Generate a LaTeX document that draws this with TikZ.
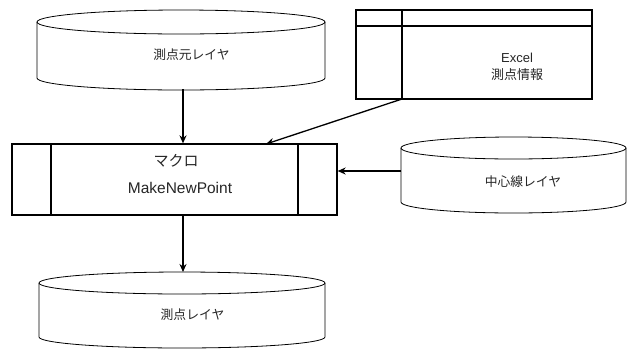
\documentclass[tikz,border=0pt]{standalone}
\usepackage{fontspec}
\setmainfont{Liberation Sans}
\newfontfamily\jp{Noto Sans CJK JP}
\usetikzlibrary{arrows.meta}

\tikzset{
  cyl/.style={line width=0.8pt},
  boxline/.style={line width=1.3pt},
  flow/.style={line width=1.3pt, -{Stealth[length=8pt,width=7pt]}},
  lbl/.style={inner sep=0pt, text=black!85},
}

% a flat cylinder (data layer): centre x, left x, top-ellipse y, bottom-ellipse y, y radius
\newcommand{\layercyl}[5]{%
  \draw[cyl] (#1pt,-#3pt) ellipse [x radius=#1pt-#2pt, y radius=#5pt];
  \draw[cyl] (#2pt,-#3pt) -- (#2pt,-#4pt)
    arc [start angle=180, end angle=360, x radius=#1pt-#2pt, y radius=#5pt]
    -- (2*#1pt-#2pt,-#3pt);
}

\begin{document}
\begin{tikzpicture}[x=1pt, y=-1pt]
\useasboundingbox (0,0) rectangle (632,349);

% source point layer
\layercyl{181}{37}{22}{78}{12}
\node[lbl, font=\jp\fontsize{12.8}{14}\selectfont] (src) at (191.5,55) {測点元レイヤ};
\coordinate (srcbot) at (183,89);

% Excel sheet
\draw[boxline] (356,10) rectangle (592,99);
\draw[boxline] (402,10) -- (402,99);
\draw[boxline] (356,26) -- (592,26);
\node[lbl, align=center, font=\fontsize{13}{17}\selectfont] (excel) at (517,66.5)
  {Excel\\{\jp 測点情報}};
\coordinate (excelout) at (402,99);

% macro box
\node[boxline, draw, rectangle, minimum width=325pt, minimum height=71pt, inner sep=0pt]
  (macro) at (174.5,179.5) {};
\draw[boxline] (51,144) -- (51,215);
\draw[boxline] (298,144) -- (298,215);
\node[lbl, font=\jp\fontsize{15}{17}\selectfont] (macroname) at (176,161) {マクロ};
\node[lbl, font=\fontsize{15.5}{17}\selectfont] (macrocmd) at (180,188) {MakeNewPoint};
\coordinate (macroin) at (266,144);

% centre line layer
\layercyl{513.5}{401}{148}{202}{11}
\node[lbl, font=\jp\fontsize{12.8}{14}\selectfont] (center) at (523,182) {中心線レイヤ};
\coordinate (centerout) at (401,171);

% output point layer
\layercyl{182}{39}{283}{337}{11}
\node[lbl, font=\jp\fontsize{12.8}{14}\selectfont] (dst) at (192.5,315) {測点レイヤ};
\coordinate (dsttop) at (183,272);

% data flow
\draw[flow] (srcbot) -- (srcbot |- macro.north);
\draw[flow] (excelout) -- (macroin);
\draw[flow] (centerout) -- (centerout -| macro.east);
\draw[flow] (dsttop |- macro.south) -- (dsttop);
\end{tikzpicture}
\end{document}
